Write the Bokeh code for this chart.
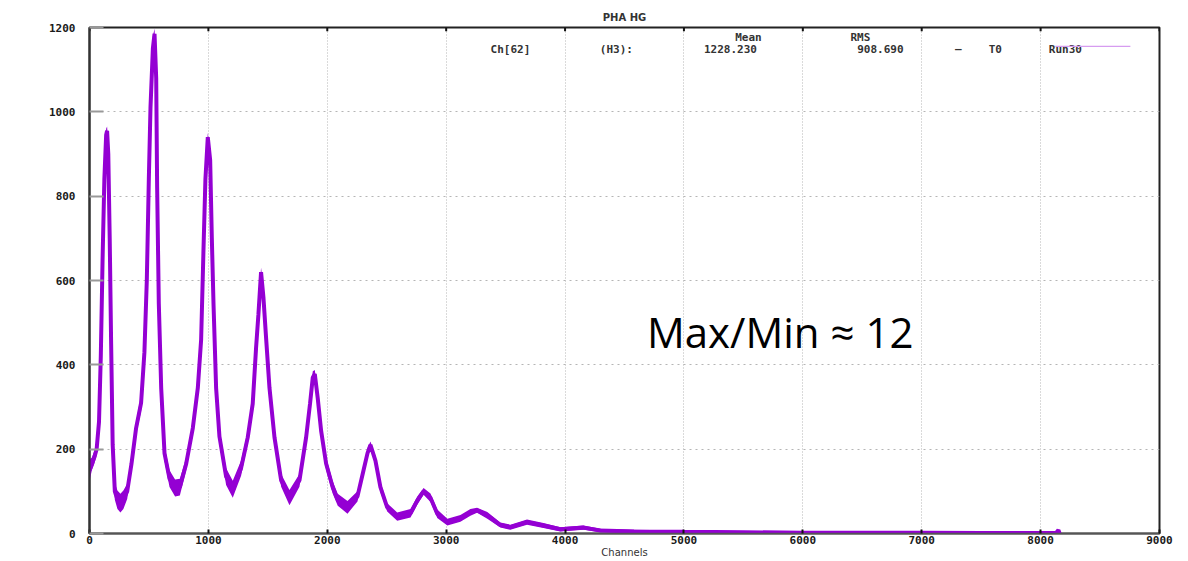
from bokeh.plotting import figure
from bokeh.embed import file_html
from bokeh.resources import INLINE
from bokeh.models import Range1d, Label, FixedTicker, BoxAnnotation

# ---- data ----
channels = [0, 20, 40, 60, 80, 95, 110, 125, 140, 148, 158, 170, 182, 195, 213, 235, 260, 285, 317, 353,
            392, 434, 462, 482, 499, 513, 533, 547, 561, 569, 583, 603, 631, 673, 720, 760, 813, 869, 911, 939,
            958, 975, 995, 1015, 1029, 1043, 1065, 1093, 1149, 1205, 1275, 1331, 1373, 1401, 1421, 1443, 1463, 1485, 1514, 1556,
            1612, 1682, 1766, 1822, 1855, 1878, 1895, 1920, 1948, 1990, 2046, 2088, 2170, 2254, 2305, 2338, 2363, 2405, 2447, 2504,
            2588, 2700, 2757, 2810, 2868, 2925, 3010, 3120, 3204, 3260, 3346, 3456, 3540, 3680, 3818, 3961, 4156, 4297, 4580, 5000,
            5500, 6000, 6500, 7000, 7500, 8000, 8130, 8150, 8160]
counts = [150, 165, 180, 200, 265, 420, 650, 840, 945, 955, 900, 700, 450, 210, 100, 80, 72, 80, 100, 165,
          250, 310, 430, 600, 840, 1010, 1150, 1185, 1080, 820, 545, 345, 190, 130, 108, 110, 165, 250, 345, 460,
          665, 840, 940, 885, 700, 545, 345, 230, 135, 105, 155, 228, 308, 440, 520, 620, 560, 465, 345, 228,
          126, 85, 126, 228, 308, 370, 378, 320, 244, 166, 109, 80, 62, 88, 150, 190, 210, 173, 110, 62,
          40, 48, 78, 100, 85, 47, 27, 36, 50, 55, 43, 20, 15, 27, 19, 10, 14, 7, 5, 4,
          3, 2, 2, 2, 1, 1, 1, 8, 0]
spread = [25, 15, 15, 15, 20, 25, 30, 30, 15, 10, 25, 30, 30, 25, 20, 22, 22, 22, 18, 15,
          15, 20, 25, 30, 30, 30, 30, 12, 30, 30, 30, 20, 18, 20, 20, 20, 15, 15, 20, 25,
          30, 25, 10, 25, 30, 25, 20, 18, 20, 20, 18, 15, 20, 25, 25, 10, 25, 25, 20, 15,
          15, 18, 15, 15, 15, 15, 10, 15, 15, 15, 15, 14, 15, 12, 12, 12, 8, 12, 12, 10,
          10, 10, 10, 8, 10, 10, 8, 8, 8, 6, 8, 6, 6, 6, 6, 5, 5, 4, 4, 3,
          3, 2, 2, 2, 2, 2, 2, 0, 0]
x_ticks = [0, 1000, 2000, 3000, 4000, 5000, 6000, 7000, 8000, 9000]
y_ticks = [0, 200, 400, 600, 800, 1000, 1200]

title_text = "PHA HG"
x_label = "Channels"
note_text = "Max/Min \u2248 12"
legend_head = ["Mean", "RMS"]
legend_parts = ["Ch[62]", "(H3):", "1228.230", "908.690", "\u2014", "T0", "Run30"]

VIOLET = "#9400d3"
MONO = "DejaVu Sans Mono"

p = figure(width=1188, height=561, x_range=Range1d(0, 9000), y_range=Range1d(0, 1200),
           output_backend="svg", toolbar_location=None, title=title_text,
           min_border_left=89, min_border_right=29, min_border_top=27, min_border_bottom=28)
p.background_fill_color = "white"
p.border_fill_color = "white"
p.outline_line_color = "#222222"
p.outline_line_width = 2

p.title.align = "center"
p.title.text_font = "DejaVu Sans"
p.title.text_font_size = "10px"
p.title.text_font_style = "bold"
p.title.text_color = "#333333"
p.title.standoff = 9

lo = [max(c - s, 0) for c, s in zip(counts, spread)]
hi = [min(c + s, 1200) for c, s in zip(counts, spread)]
p.varea(x=channels, y1=lo, y2=hi, fill_color=VIOLET, fill_alpha=1.0)
p.line(channels, counts, line_color=VIOLET, line_width=4)

# axes
p.xaxis.ticker = FixedTicker(ticks=x_ticks)
p.yaxis.ticker = FixedTicker(ticks=y_ticks)
for ax in (p.xaxis[0], p.yaxis[0]):
    ax.major_label_text_font = MONO
    ax.major_label_text_font_style = "bold"
    ax.major_label_text_font_size = "11px"
    ax.major_label_text_color = "#1a1a1a"
    ax.minor_tick_line_color = None
    ax.major_tick_out = 0
p.yaxis.major_tick_in = 14
p.yaxis.major_tick_line_color = "#999999"
p.yaxis.major_tick_line_width = 2
p.yaxis.axis_line_color = "#333333"
p.yaxis.axis_line_width = 2
p.yaxis.major_label_standoff = 14
p.xaxis.major_tick_in = 4
p.xaxis.major_tick_line_color = "#111111"
p.xaxis.major_tick_line_width = 2
p.xaxis.axis_line_color = "#555555"
p.xaxis.axis_line_width = 1.5
p.xaxis.major_label_standoff = 2
p.xaxis.axis_label = x_label
p.xaxis.axis_label_standoff = 0
p.xaxis.axis_label_text_font = "DejaVu Sans"
p.xaxis.axis_label_text_font_size = "10px"
p.xaxis.axis_label_text_font_style = "normal"
p.xaxis.axis_label_text_color = "#333333"

# mirrored ticks on the top border, taken from the tick list
p.segment(x0=x_ticks, y0=[1200] * len(x_ticks), x1=x_ticks, y1=[1191] * len(x_ticks),
          line_color="#111111", line_width=2)

p.xgrid.grid_line_color = "#b5b5b5"
p.xgrid.grid_line_dash = "1 2"
p.ygrid.grid_line_color = "#b5b5b5"
p.ygrid.grid_line_dash = "2 4"

# legend texts
for txt, xc in zip(legend_head, [5542, 6484]):
    p.add_layout(Label(x=xc, y=1176, text=txt, text_align="center", text_baseline="middle",
                       text_font=MONO, text_font_size="11px", text_font_style="bold",
                       text_color="#333333"))
for txt, xc in zip(legend_parts, [3541, 4432, 5391, 6652, 7308, 7619, 8208]):
    p.add_layout(Label(x=xc, y=1148, text=txt, text_align="center", text_baseline="middle",
                       text_font=MONO, text_font_size="11px", text_font_style="bold",
                       text_color="#333333"))
p.add_layout(Label(x=5810, y=479, text=note_text, text_align="center", text_baseline="middle",
                   text_font="Open Sans", text_font_size="42px", text_color="#000000"))

# legend line sample
p.add_layout(BoxAnnotation(left=8124, right=8755, bottom=1154, top=1157,
                           fill_color="#d69cf0", fill_alpha=1.0, line_color=None))

open("out.html", "w", encoding="utf-8").write(file_html(p, INLINE))
